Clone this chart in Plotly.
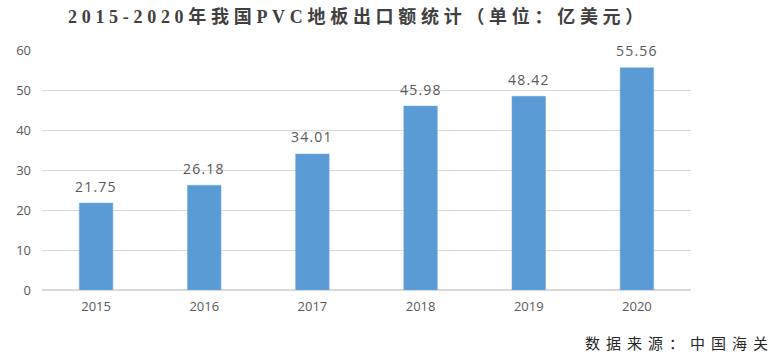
import plotly.graph_objects as go

years = ["2015", "2016", "2017", "2018", "2019", "2020"]
values = [21.75, 26.18, 34.01, 45.98, 48.42, 55.56]
labels = ["21.75", "26.18", "34.01", "45.98", "48.42", "55.56"]
title_text = "2015-2020年我国PVC地板出口额统计（单位：亿美元）"
source_text = "数据来源：中国海关"

fig = go.Figure(go.Bar(
    x=years, y=values,
    marker=dict(color="#5B9BD5", line=dict(color="#6FA8DC", width=0.5)),
    width=0.31,
))

annos = [dict(x=i, y=v, text='<span style="letter-spacing:1.2px">' + lb + '</span>',
              xref="x", yref="y", showarrow=False,
              yanchor="middle", yshift=17,
              font=dict(size=14, color="#595959", family="Open Sans, Noto Sans CJK SC"))
         for i, (v, lb) in enumerate(zip(values, labels))]
annos.append(dict(text='<span style="letter-spacing:6px">' + source_text + '</span>',
                  xref="paper", yref="paper", x=(583 - 42) / 649, y=-(342 - 290) / 240,
                  xanchor="left", yanchor="middle", showarrow=False,
                  font=dict(family="Noto Sans CJK SC", size=15, color="#262626")))

fig.update_layout(
    width=779, height=360,
    margin=dict(l=42, r=88, t=50, b=70),
    paper_bgcolor="white", plot_bgcolor="white",
    showlegend=False,
    font=dict(family="Open Sans, Noto Sans CJK SC", color="#595959", size=12),
    title=dict(text='<b><span style="letter-spacing:4.7px">' + title_text + '</span></b>',
               x=68 / 779, xanchor="left", y=1 - 17 / 360, yanchor="middle",
               font=dict(family="Liberation Serif, Noto Sans CJK SC", size=18, color="#404040")),
    annotations=annos,
)
fig.update_yaxes(range=[0, 60], dtick=10, showgrid=True, gridcolor="#D9D9D9", gridwidth=1,
                 zeroline=True, zerolinecolor="#D9D9D9", tickfont=dict(size=13, color="#595959"),
                 ticks="", ticklabelstandoff=10)
fig.update_xaxes(type="category", range=[-0.5, len(years) - 0.5], showline=True, linecolor="#D9D9D9",
                 tickfont=dict(size=13, color="#595959"), ticks="", ticklabelstandoff=4)

fig.write_html("out.html", config={"displayModeBar": False},
               post_script="document.body.style.margin='0';")
